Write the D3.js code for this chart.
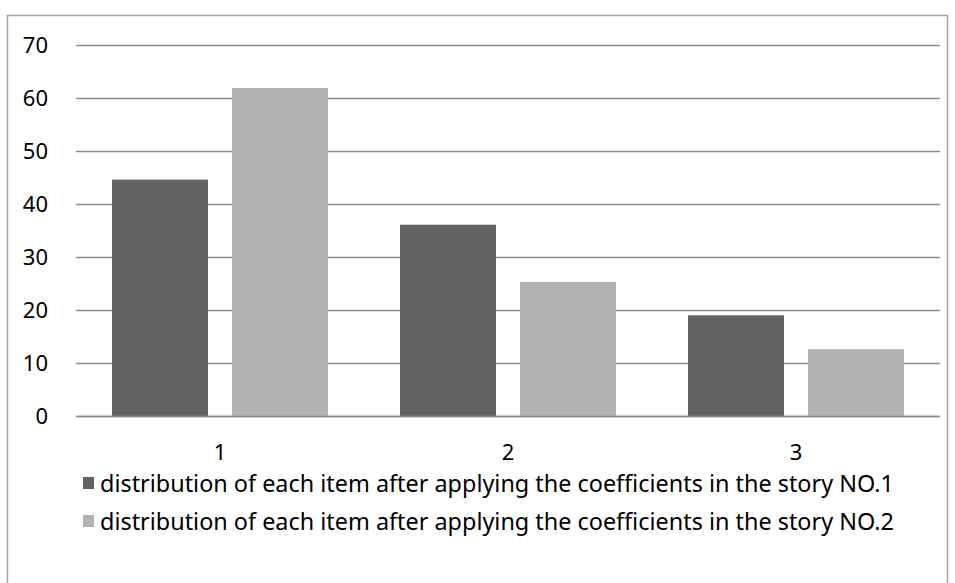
<!DOCTYPE html>
<html>
<head>
<meta charset="utf-8">
<script src="https://cdn.jsdelivr.net/npm/d3@7"></script>
<style>
  body { margin: 0; background: #fff; }
  svg text { font-family: "Noto Sans", sans-serif; fill: #000; }
</style>
</head>
<body>
<div id="chart"></div>
<script>
    'use strict';

    var categories = ['1', '2', '3'];
    var seriesNames = [
        'distribution of each item after applying the coefficients in the story NO.1',
        'distribution of each item after applying the coefficients in the story NO.2'
    ];
    var story1 = [44.6, 36.1, 19.0];
    var story2 = [61.9, 25.3, 12.6];
    var yTicks = [0, 10, 20, 30, 40, 50, 60, 70];
    var colors = ['#636363', '#b2b2b2'];

    var stage = { width: 955, height: 583 };
    var plot = { left: 76, right: 940, top: 45, bottom: 416 };

    var svg = d3.select('#chart')
        .append('svg')
        .attr('width', stage.width)
        .attr('height', stage.height);

    // outer chart frame
    svg.append('rect')
        .attr('x', 7.5)
        .attr('y', 15.5)
        .attr('width', 940)
        .attr('height', 600)
        .attr('fill', 'none')
        .attr('stroke', '#a6a6a6')
        .attr('stroke-width', 1.5);

    var x = d3.scaleBand()
        .domain(categories)
        .range([plot.left, plot.right]);

    var xInner = d3.scaleBand()
        .domain([0, 1])
        .range([0, x.bandwidth()])
        .paddingInner(0.2)
        .paddingOuter(0.3);

    var y = d3.scaleLinear()
        .domain([0, 70])
        .range([plot.bottom, plot.top]);

    // gridlines
    svg.append('g')
        .attr('class', 'grid')
        .selectAll('line').data(yTicks).enter()
        .append('line')
        .attr('x1', plot.left)
        .attr('x2', plot.right)
        .attr('y1', function(d) { return Math.round(y(d)) + 0.5; })
        .attr('y2', function(d) { return Math.round(y(d)) + 0.5; })
        .attr('stroke', '#8c8c8c')
        .attr('stroke-width', 1.3);

    // y tick labels
    svg.append('g')
        .selectAll('text').data(yTicks).enter()
        .append('text')
        .attr('x', 48)
        .attr('y', function(d) { return y(d); })
        .attr('dy', '0.36em')
        .attr('text-anchor', 'end')
        .attr('font-size', 22)
        .text(function(d) { return d; });

    var rows = categories.map(function(c, i) {
        return { cat: c, values: [story1[i], story2[i]] };
    });

    svg.append('g')
        .attr('class', 'bars')
        .selectAll('g').data(rows).enter()
        .append('g')
        .attr('transform', function(d) { return 'translate(' + x(d.cat) + ',0)'; })
        .selectAll('rect').data(function(d) {
            return d.values.map(function(v, k) { return { k: k, v: v }; });
        }).enter()
        .append('rect')
        .attr('x', function(d) { return xInner(d.k); })
        .attr('width', xInner.bandwidth())
        .attr('y', function(d) { return y(d.v); })
        .attr('height', function(d) { return y(0) - y(d.v); })
        .attr('fill', function(d) { return colors[d.k]; });

    // baseline above bars
    svg.append('line')
        .attr('x1', plot.left)
        .attr('x2', plot.right)
        .attr('y1', Math.round(y(0)) + 0.5)
        .attr('y2', Math.round(y(0)) + 0.5)
        .attr('stroke', '#8c8c8c')
        .attr('stroke-width', 1.3);

    // category labels
    svg.append('g')
        .selectAll('text').data(categories).enter()
        .append('text')
        .attr('x', function(d) { return x(d) + x.bandwidth() / 2; })
        .attr('y', 452)
        .attr('dy', '0.36em')
        .attr('text-anchor', 'middle')
        .attr('font-size', 22)
        .text(function(d) { return d; });

    // legend
    var legend = svg.append('g')
        .selectAll('g').data(seriesNames).enter()
        .append('g')
        .attr('transform', function(d, i) { return 'translate(83,' + (483 + i * 38) + ')'; });

    legend.append('rect')
        .attr('x', 0)
        .attr('y', -6)
        .attr('width', 11)
        .attr('height', 12)
        .attr('fill', function(d, i) { return colors[i]; });

    legend.append('text')
        .attr('x', 17)
        .attr('y', 0)
        .attr('dy', '0.36em')
        .attr('font-size', 24)
        .attr('textLength', 794)
        .attr('lengthAdjust', 'spacingAndGlyphs')
        .text(function(d) { return d; });
</script>
</body>
</html>
